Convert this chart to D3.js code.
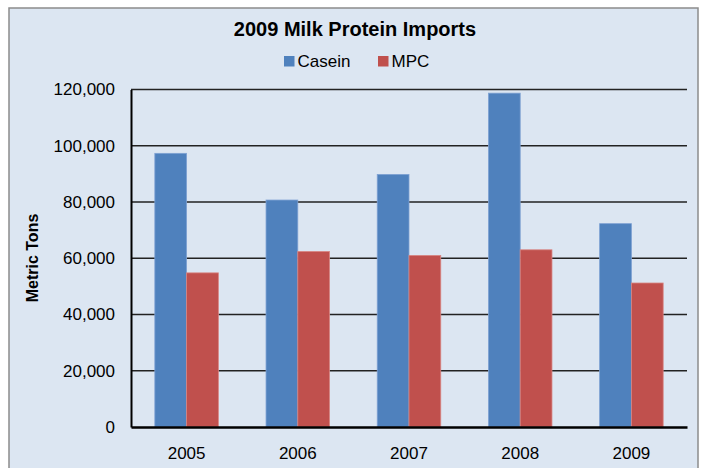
<!DOCTYPE html>
<html>
<head>
<meta charset="utf-8">
<script src="https://cdn.jsdelivr.net/npm/d3@7"></script>
<style>
  body { margin: 0; background: #fff; }
  svg { display: block; font-family: Arial, "Liberation Sans", sans-serif; }
</style>
</head>
<body>
<svg id="chart"></svg>
<script>
const years = ["2005", "2006", "2007", "2008", "2009"];
const series = ["Casein", "MPC"];
const casein = [97300, 80700, 89800, 118700, 72300];
const mpc = [54800, 62400, 61000, 63000, 51200];
const yTicks = [0, 20000, 40000, 60000, 80000, 100000, 120000];
const colors = ["#4f81bd", "#c0504d"];
const strokes = ["#7ea1d3", "#d88582"];

const W = 702, H = 468;
const margin = {top: 89.5, right: 15, bottom: 41, left: 131};
const width = W - margin.left - margin.right;
const height = H - margin.top - margin.bottom;

const svg = d3.select("#chart").attr("width", W).attr("height", H);

// chart frame
svg.append("rect")
  .attr("x", 9).attr("y", 8)
  .attr("width", 689).attr("height", 470)
  .attr("fill", "#dce6f2")
  .attr("stroke", "#8c8c8c")
  .attr("stroke-width", 1.5);

svg.append("text")
  .attr("x", 355).attr("y", 36)
  .attr("text-anchor", "middle")
  .style("font-size", "20px")
  .style("font-weight", "bold")
  .text("2009 Milk Protein Imports");

// legend
const legend = svg.append("g").attr("transform", "translate(284, 56)");
const legendX = [0, 94];
series.forEach((s, i) => {
  const lg = legend.append("g").attr("transform", `translate(${legendX[i]}, 0)`);
  lg.append("rect").attr("width", 10.5).attr("height", 10.5).attr("fill", colors[i]);
  lg.append("text").attr("x", 13.5).attr("y", 11)
    .style("font-size", "17px").text(s);
});

const g = svg.append("g").attr("transform", `translate(${margin.left}, ${margin.top})`);

const x = d3.scaleBand().domain(years).range([0, width]).paddingInner(0.4286).paddingOuter(0.2143);
const x1 = d3.scaleBand().domain(series).range([0, x.bandwidth()]);
const y = d3.scaleLinear().domain([0, 120000]).range([height, 0]);

// gridlines
g.append("g")
  .selectAll("line")
  .data(yTicks.filter(d => d > 0))
  .enter()
  .append("line")
  .attr("x1", 0).attr("x2", width)
  .attr("y1", d => y(d)).attr("y2", d => y(d))
  .attr("stroke", "#222")
  .attr("stroke-width", 1.3);

const rows = years.map((yr, i) => ({year: yr, values: [casein[i], mpc[i]]}));

g.selectAll(".grp")
  .data(rows)
  .enter()
  .append("g")
  .attr("class", "grp")
  .attr("transform", d => `translate(${x(d.year)}, 0)`)
  .selectAll("rect")
  .data(d => d.values.map((v, i) => ({key: series[i], v, i})))
  .enter()
  .append("rect")
  .attr("x", d => x1(d.key))
  .attr("y", d => y(d.v))
  .attr("width", x1.bandwidth())
  .attr("height", d => height - y(d.v))
  .attr("fill", d => colors[d.i])
  .attr("stroke", d => strokes[d.i])
  .attr("stroke-width", 0.8);

// axes
const yAxis = d3.axisLeft(y).tickValues(yTicks).tickSize(0).tickPadding(16).tickFormat(d3.format(","));
g.append("g").call(yAxis)
  .call(a => a.select(".domain").attr("stroke", "#000").attr("stroke-width", 2))
  .selectAll("text").style("font-size", "17px").attr("fill", "#000");

const xAxis = d3.axisBottom(x).tickSize(0).tickPadding(20);
g.append("g").attr("transform", `translate(0, ${height})`).call(xAxis)
  .call(a => a.select(".domain").attr("stroke", "#000").attr("stroke-width", 2.5))
  .selectAll("text").style("font-size", "17px").attr("fill", "#000");

svg.append("text")
  .attr("transform", "translate(38, 258) rotate(-90)")
  .attr("text-anchor", "middle")
  .style("font-size", "16px")
  .style("font-weight", "bold")
  .text("Metric Tons");
</script>
</body>
</html>
